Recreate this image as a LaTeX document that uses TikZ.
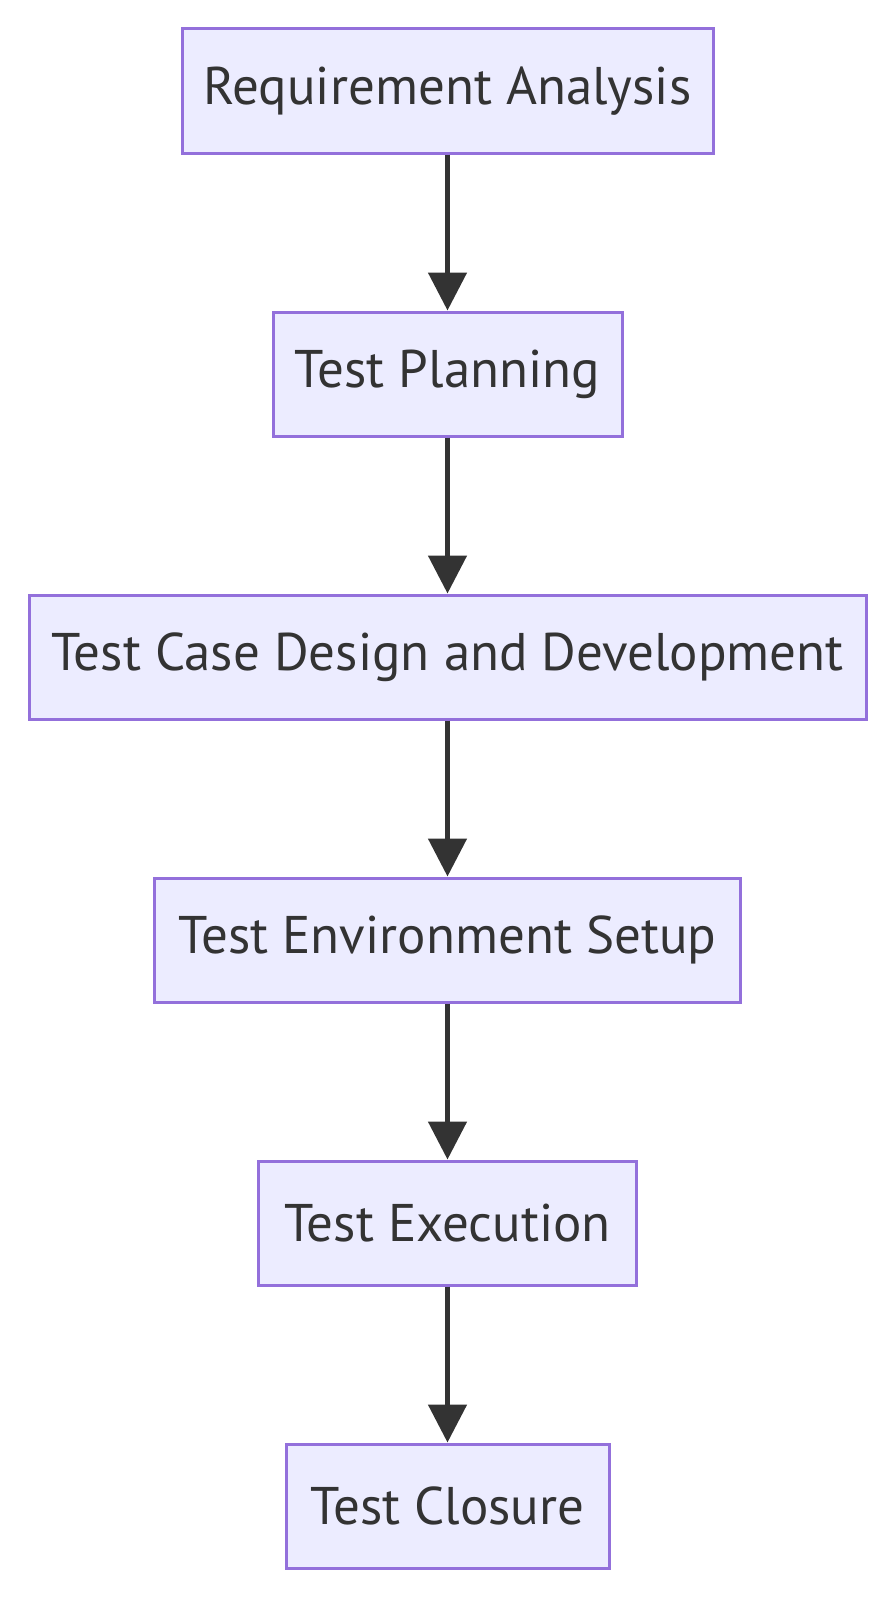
\documentclass[tikz,border=0pt]{standalone}
\usepackage{fontspec}
\setmainfont{PT Sans}
\usetikzlibrary{arrows.meta}
\definecolor{boxfill}{HTML}{ECECFF}
\definecolor{boxline}{HTML}{9370DB}
\definecolor{ink}{HTML}{333333}
\tikzset{
  stage/.style={draw=boxline, fill=boxfill, line width=3pt, minimum height=124pt,
    inner sep=0pt, text=ink, font=\fontsize{53}{63}\selectfont},
  flow/.style={draw=ink, line width=5pt, -{Triangle[width=38pt,length=38pt]}}
}
\begin{document}
\begin{tikzpicture}[x=1pt,y=-1pt]
\useasboundingbox (0,0) rectangle (895,1600);
\node[stage, minimum width=531pt] (a) at (447.5,91) {Requirement Analysis};
\node[stage, minimum width=349pt] (b) at (447.5,374) {Test Planning};
\node[stage, minimum width=837pt] (c) at (447.5,657) {Test Case Design and Development};
\node[stage, minimum width=586pt] (d) at (447.5,940) {Test Environment Setup};
\node[stage, minimum width=378pt] (e) at (447.5,1223) {Test Execution};
\node[stage, minimum width=323pt] (f) at (447.5,1506) {Test Closure};
\draw[flow] (a) -- (b);
\draw[flow] (b) -- (c);
\draw[flow] (c) -- (d);
\draw[flow] (d) -- (e);
\draw[flow] (e) -- (f);
\end{tikzpicture}
\end{document}
